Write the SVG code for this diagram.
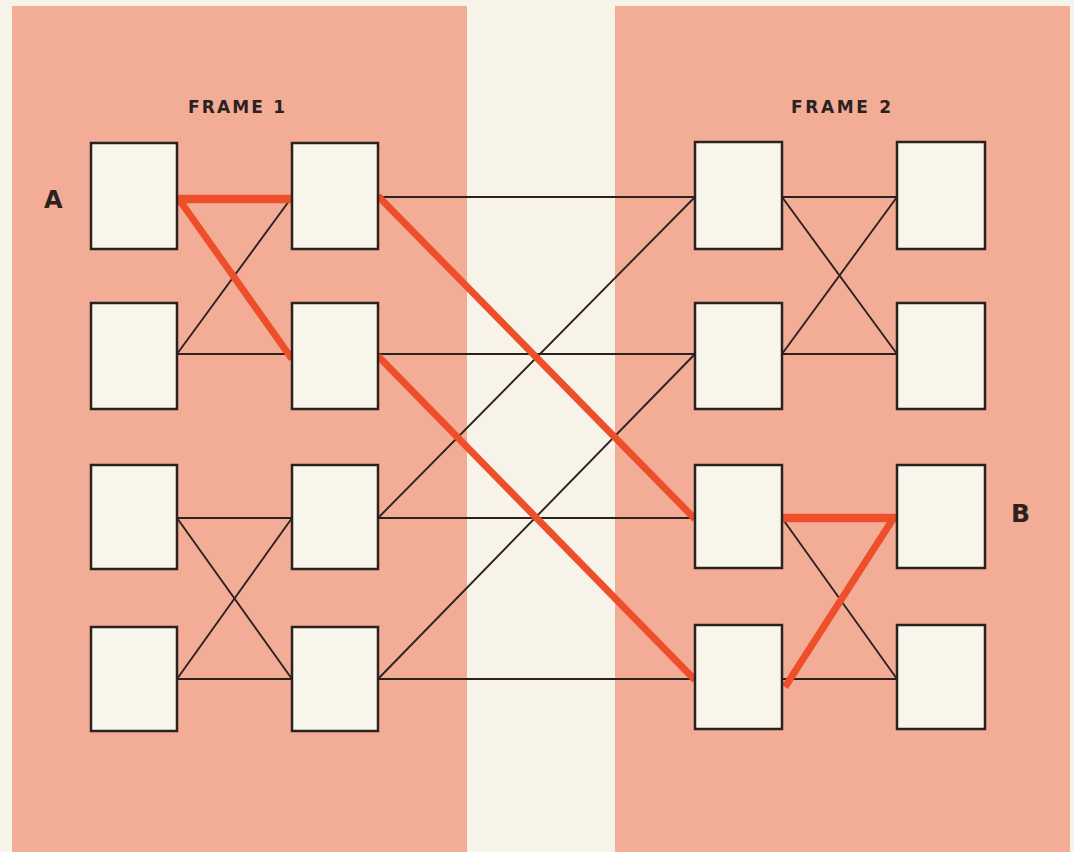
<svg xmlns="http://www.w3.org/2000/svg" width="1074" height="852" viewBox="0 0 1074 852">
<style>
.bg{fill:#f7f3e8}
.panel{fill:#f3ad96}
.box{fill:#f8f5eb;stroke:#2b2220;stroke-width:2.5}
.ln{stroke:#2b2220;stroke-width:1.9;fill:none}
.red{stroke:#ee4f2b;stroke-width:7;fill:none;stroke-linecap:butt}
.lbl{font-family:"DejaVu Sans","Liberation Sans",Arial,sans-serif;font-weight:bold;fill:#2b2220}
</style>
<rect class="bg" x="0" y="0" width="1074" height="852"/>
<rect class="panel" x="12" y="6" width="455" height="846"/>
<rect class="panel" x="615" y="6" width="455" height="846"/>

<g id="connectors">
  <!-- frame 1 stage -->
  <line class="ln" x1="177" y1="354" x2="292" y2="197"/>
  <line class="ln" x1="177" y1="354" x2="292" y2="354"/>
  <line class="ln" x1="177" y1="518" x2="292" y2="518"/>
  <line class="ln" x1="177" y1="518" x2="292" y2="679"/>
  <line class="ln" x1="177" y1="679" x2="292" y2="518"/>
  <line class="ln" x1="177" y1="679" x2="292" y2="679"/>
  <!-- middle stage -->
  <line class="ln" x1="378" y1="197" x2="695" y2="197"/>
  <line class="ln" x1="378" y1="354" x2="695" y2="354"/>
  <line class="ln" x1="378" y1="518" x2="695" y2="197"/>
  <line class="ln" x1="378" y1="518" x2="695" y2="518"/>
  <line class="ln" x1="378" y1="679" x2="695" y2="354"/>
  <line class="ln" x1="378" y1="679" x2="695" y2="679"/>
  <!-- frame 2 stage -->
  <line class="ln" x1="782" y1="197" x2="897" y2="197"/>
  <line class="ln" x1="782" y1="197" x2="897" y2="354"/>
  <line class="ln" x1="782" y1="354" x2="897" y2="197"/>
  <line class="ln" x1="782" y1="354" x2="897" y2="354"/>
  <line class="ln" x1="782" y1="518" x2="897" y2="679"/>
  <line class="ln" x1="782" y1="679" x2="897" y2="679"/>
  <!-- red path -->
  <line class="red" x1="177" y1="199" x2="292" y2="199" style="stroke-width:8.5"/>
  <line class="red" x1="178" y1="198" x2="292" y2="359"/>
  <line class="red" x1="378" y1="196" x2="695" y2="519"/>
  <line class="red" x1="378" y1="356" x2="695" y2="680"/>
  <line class="red" x1="782" y1="518" x2="897" y2="518" style="stroke-width:8.5"/>
  <line class="red" x1="893" y1="519" x2="785" y2="687"/>
</g>

<g id="f1-r1c1"><rect class="box" x="91" y="143" width="86" height="106"/></g>
<g id="f1-r2c1"><rect class="box" x="91" y="303" width="86" height="106"/></g>
<g id="f1-r3c1"><rect class="box" x="91" y="465" width="86" height="104"/></g>
<g id="f1-r4c1"><rect class="box" x="91" y="627" width="86" height="104"/></g>
<g id="f1-r1c2"><rect class="box" x="292" y="143" width="86" height="106"/></g>
<g id="f1-r2c2"><rect class="box" x="292" y="303" width="86" height="106"/></g>
<g id="f1-r3c2"><rect class="box" x="292" y="465" width="86" height="104"/></g>
<g id="f1-r4c2"><rect class="box" x="292" y="627" width="86" height="104"/></g>
<g id="f2-r1c1"><rect class="box" x="695" y="142" width="87" height="107"/></g>
<g id="f2-r2c1"><rect class="box" x="695" y="303" width="87" height="106"/></g>
<g id="f2-r3c1"><rect class="box" x="695" y="465" width="87" height="103"/></g>
<g id="f2-r4c1"><rect class="box" x="695" y="625" width="87" height="104"/></g>
<g id="f2-r1c2"><rect class="box" x="897" y="142" width="88" height="107"/></g>
<g id="f2-r2c2"><rect class="box" x="897" y="303" width="88" height="106"/></g>
<g id="f2-r3c2"><rect class="box" x="897" y="465" width="88" height="103"/></g>
<g id="f2-r4c2"><rect class="box" x="897" y="625" width="88" height="104"/></g>

<g id="labels">
  <text class="lbl" x="188" y="113" font-size="17" textLength="97" lengthAdjust="spacing">FRAME  1</text>
  <text class="lbl" x="791" y="113" font-size="17" textLength="100" lengthAdjust="spacing">FRAME  2</text>
  <text class="lbl" x="44" y="208" font-size="24">A</text>
  <text class="lbl" x="1011" y="522" font-size="25">B</text>
</g>
</svg>
